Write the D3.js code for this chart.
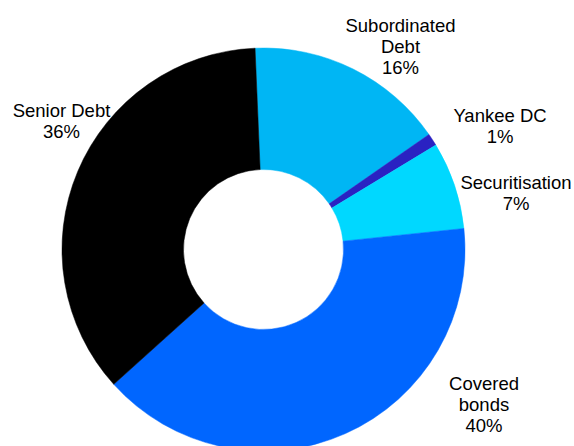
<!DOCTYPE html>
<html>
<head>
<meta charset="utf-8">
<script src="https://cdn.jsdelivr.net/npm/d3@7"></script>
<style>
  html, body { margin: 0; padding: 0; background: #ffffff; }
  svg { display: block; }
  text { font-family: "Liberation Sans", Arial, sans-serif; fill: #000; }
</style>
</head>
<body>
<svg id="chart" width="574" height="446"></svg>
<script>
// Issuance mix by instrument (% share)
const categories = ["Subordinated Debt", "Yankee DC", "Securitisation", "Covered bonds", "Senior Debt"];
const shares = [16, 1, 7, 40, 36];
const labelLines = [
  ["Subordinated", "Debt", "16%"],
  ["Yankee DC", "1%"],
  ["Securitisation", "7%"],
  ["Covered", "bonds", "40%"],
  ["Senior Debt", "36%"]
];
const colors = ["#00B6F4", "#2A22C2", "#00D8FF", "#0066FF", "#000000"];

// Layout
const width = 574, height = 446;
const cx = 263.5, cy = 249.5;
const outerR = 201.5, innerR = 80;
const startDeg = -2.4;
// first-baseline anchor for each label block
const labelAnchors = [
  [400.5, 32], [500, 121.5], [516, 188.5], [484, 390], [61.5, 116.5]
];
const lineGap = 21;

const svg = d3.select("#chart");

const data = categories.map((c, i) => ({ name: c, value: shares[i], color: colors[i], lines: labelLines[i], anchor: labelAnchors[i] }));

const pie = d3.pie()
  .value(d => d.value)
  .sort(null)
  .startAngle(startDeg * Math.PI / 180)
  .endAngle(startDeg * Math.PI / 180 + 2 * Math.PI);

const arc = d3.arc().innerRadius(innerR).outerRadius(outerR);

const g = svg.append("g").attr("transform", `translate(${cx},${cy})`);

g.selectAll("path.slice")
  .data(pie(data))
  .join("path")
  .attr("class", "slice")
  .attr("d", arc)
  .attr("fill", d => d.data.color)
  .attr("stroke", d => d.data.color)
  .attr("stroke-width", 0.5);

const labels = svg.append("g").selectAll("text.lbl")
  .data(data)
  .join("text")
  .attr("class", "lbl")
  .attr("text-anchor", "middle")
  .attr("font-size", 18.5)
  .attr("x", d => d.anchor[0])
  .attr("y", d => d.anchor[1]);

labels.selectAll("tspan")
  .data(d => d.lines.map((t, j) => ({ t, j, x: d.anchor[0] })))
  .join("tspan")
  .attr("x", d => d.x)
  .attr("dy", d => d.j === 0 ? 0 : lineGap)
  .text(d => d.t);
</script>
</body>
</html>
